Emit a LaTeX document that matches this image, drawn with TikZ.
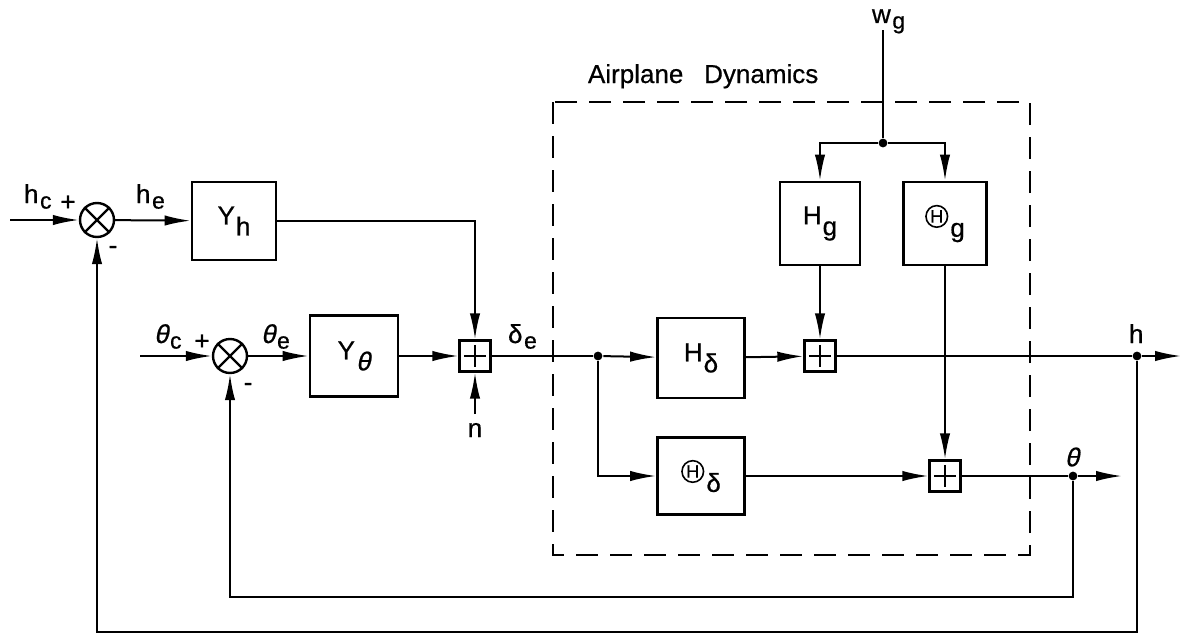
\documentclass[tikz,border=0pt]{standalone}
\usepackage{fontspec}
\setmainfont[FakeBold=0.6]{Liberation Sans}
\newfontfamily\slgr[FakeSlant=0.22,FakeBold=0.6]{Liberation Sans}
\usetikzlibrary{arrows.meta,calc}
\newcommand\sbs[1]{\kern0.5pt\raisebox{-5.5pt}{#1}}
\newcommand\sbl[1]{\kern0.8pt\raisebox{-2.8pt}{\fontsize{11.5}{13}\selectfont #1}}
\newcommand\thg{{\slgr θ}}
\newcommand\cH{\tikz[baseline={(0pt,-4.7pt)}]{\draw[line width=0.8pt,dash pattern=] (0pt,0pt) circle (5.4pt); \node[draw=none,inner sep=0pt,minimum width=0pt,minimum height=0pt,font=\fontsize{9}{10}\selectfont] at (0pt,0pt) {H};}\kern0.5pt}
\begin{document}
\begin{tikzpicture}[x=0.5pt,y=-0.5pt,
  line width=1pt,
  font=\fontsize{13}{15}\selectfont,
  blk/.style={draw,line width=1.4pt,inner sep=0pt},
  sj/.style={draw,circle,minimum size=17pt,inner sep=0pt,line width=1.2pt},
  sbox/.style={draw,minimum size=15.5pt,inner sep=0pt,line width=1.2pt},
  arr/.style={-{Latex[length=13pt,width=5.2pt]}},
  jdot/.style={circle,fill,inner sep=0pt,minimum size=4.4pt},
  lbl/.style={inner sep=0pt},
  dyn/.style={draw,line width=1.2pt,dash pattern=on 11pt off 6pt}]
\useasboundingbox (0,0) rectangle (1183,637);

% dashed airplane dynamics box
\draw[dyn] (553,102) rectangle (1030,555);
\node[lbl,anchor=base west] (adl) at (587,83) {Airplane\hspace{0.8em}Dynamics};

% summing junctions
\node[sj] (c1) at (97,220) {};
\node[sj] (c2) at (230,356) {};
\foreach \c in {c1,c2}{
  \draw[line width=1.2pt] (\c.45) -- (\c.225);
  \draw[line width=1.2pt] (\c.135) -- (\c.-45);
}

% blocks
\node[blk,minimum width=42pt,minimum height=39pt] (yh) at (234,221) {Y\sbs{h}};
\node[blk,minimum width=44pt,minimum height=40.5pt] (yt) at (354,356) {Y\sbs{\thg}};
\node[blk,minimum width=40pt,minimum height=41.5pt] (hg) at (820,223.5) {H\sbs{g}};
\node[blk,minimum width=41.5pt,minimum height=41.5pt] (tg) at (945,223.5) {\cH\sbs{g}};
\node[blk,minimum width=43.5pt,minimum height=40pt] (hd) at (701,358) {H\sbs{δ}};
\node[blk,minimum width=43.5pt,minimum height=38.5pt] (td) at (701,476) {\cH\sbs{δ}};

% sum boxes
\node[sbox] (s1) at (475,356) {};
\node[sbox] (s2) at (820,356) {};
\node[sbox] (s3) at (945,476) {};
\foreach \s in {s1,s2,s3}{
  \draw[line width=1pt] ($(\s.north)!0.17!(\s.south)$) -- ($(\s.south)!0.17!(\s.north)$);
  \draw[line width=1pt] ($(\s.west)!0.17!(\s.east)$) -- ($(\s.east)!0.17!(\s.west)$);
}

% junction dots and free ends
\node[jdot] (j1) at (598,356) {};
\node[jdot] (jh) at (1137,356) {};
\node[jdot] (jt) at (1073,476) {};
\node[jdot] (jw) at (883,143) {};
\coordinate (hcin) at (10,220);
\coordinate (tcin) at (140,356);
\coordinate (hout) at (1181,356);
\coordinate (tout) at (1122,476);
\coordinate (fbt) at (230,597);
\coordinate (fbh) at (97,632);
\coordinate (nin) at (475,414);
\coordinate (wtop) at (883,30);

% labels
\node[lbl,anchor=base west] (lhc) at (23,203) {h\sbl{c}};
\node[lbl] (phc) at (68,203) {+};
\node[lbl] (mhc) at (113,250) {-};
\node[lbl,anchor=base west] (lhe) at (135,203) {h\sbl{e}};
\node[lbl,anchor=base west] (ltc) at (153,343) {\thg\sbl{c}};
\node[lbl] (ptc) at (202,342) {+};
\node[lbl] (mtc) at (248,387) {-};
\node[lbl,anchor=base west] (lte) at (260,343) {\thg\sbl{e}};
\node[lbl,anchor=base west] (lde) at (507,343) {δ\sbl{e}};
\node[lbl] (ln) at (475,430) {n};
\node[lbl,anchor=base west] (lh) at (1128,343) {h};
\node[lbl] (lth) at (1072,457) {\thg};
\node[lbl,anchor=base west] (lwg) at (871,23) {w\sbl{g}};

% connectors
\draw[arr] (hcin) -- (c1);
\draw[arr] (c1) -- (yh);
\draw[arr] (yh.east) -| (s1);
\draw[arr] (tcin) -- (c2);
\draw[arr] (c2) -- (yt);
\draw[arr] (yt) -- (s1);
\draw[arr] (nin) -- (s1);
\draw (s1) -- (j1);
\draw[arr] (j1) -- (hd);
\draw[arr] (j1) |- (td);
\draw[arr] (hd) -- (s2);
\draw (wtop) -- (jw);
\draw[arr] (jw) -| (hg);
\draw[arr] (jw) -| (tg);
\draw[arr] (hg) -- (s2);
\draw[arr] (tg) -- (s3);
\draw[arr] (td) -- (s3);
\draw (s2) -- (jh);
\draw[arr] (jh) -- (hout);
\draw (s3) -- (jt);
\draw[arr] (jt) -- (tout);
\draw[arr] (jt) |- (fbt) -- (c2);
\draw[arr] (jh) |- (fbh) -- (c1);
\end{tikzpicture}
\end{document}
